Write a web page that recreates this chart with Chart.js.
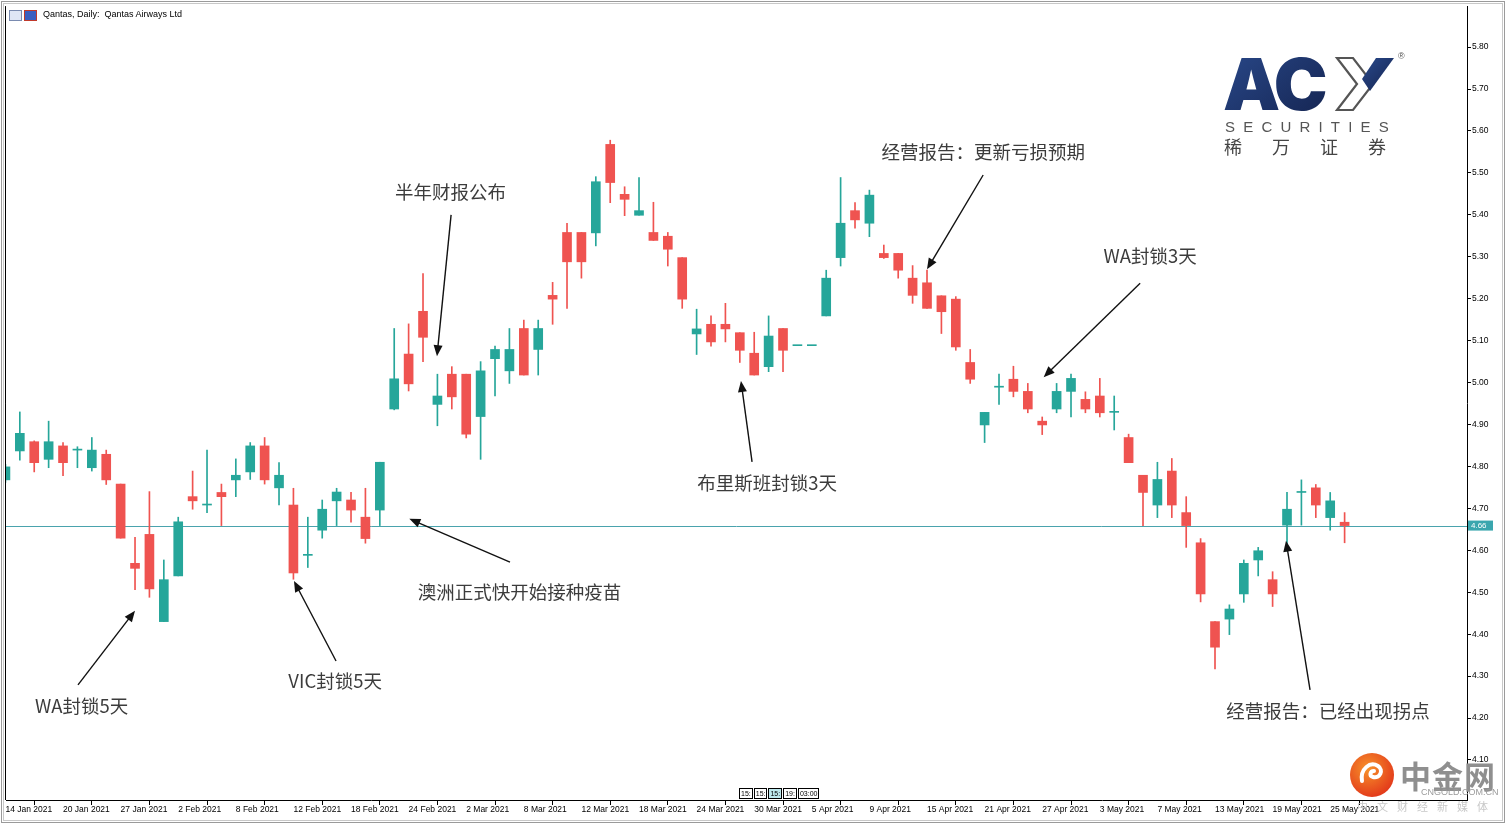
<!DOCTYPE html>
<html>
<head>
<meta charset="utf-8">
<script src="https://cdn.jsdelivr.net/npm/chart.js@4.4.1/dist/chart.umd.min.js"></script>
<style>
  body { margin: 0; background: #fff; }
  #wrap { position: relative; width: 1507px; height: 825px; overflow: hidden; background: #fff; }
  #wrap canvas { position: absolute; left: 0; top: 0; }
  .hdr { position: absolute; left: 43px; top: 9px; font: 9px "Liberation Sans", Arial, sans-serif; color: #000; }
  .ico { position: absolute; top: 10px; width: 11px; height: 9px; border: 1px solid #7a8bb0; }
  .sep { position: absolute; top: 788px; left: 739px; display: flex; font: 7px "Liberation Sans", sans-serif; }
  .sep span { border: 1px solid #000; padding: 0 1px; margin-right: 1px; height: 9px; line-height: 9px; background: #fff; }
  .wm1 { position: absolute; left: 1400px; top: 752px; font: bold 31px "Noto Sans CJK SC", sans-serif; color: #8f8f8f; letter-spacing: 1px; }
  .wm2 { position: absolute; left: 1421px; top: 787px; font: 9px "Liberation Sans", sans-serif; color: #9a9a9a; }
  .wm3 { position: absolute; left: 1357px; top: 798px; font: 11px "Noto Sans CJK SC", sans-serif; color: #c8c8c8; letter-spacing: 9px; }
</style>
</head>
<body>
<div id="wrap">
  <canvas id="qan"></canvas>
  <div class="ico" style="left:9px;background:#dfe6f5"></div>
  <div class="ico" style="left:24px;background:#3b5fc0;border-color:#c0392b"></div>
  <div class="hdr">Qantas, Daily:&nbsp; Qantas Airways Ltd</div>
  <div class="sep"><span>15:</span><span>15:</span><span style="background:#bfe9ee">15:</span><span>19:</span><span>03:00</span></div>

  <svg style="position:absolute;left:1210px;top:45px" width="200" height="120">
    <defs>
      <linearGradient id="nv" x1="0" y1="0" x2="1" y2="1">
        <stop offset="0" stop-color="#2a4a8c"/>
        <stop offset="1" stop-color="#14234f"/>
      </linearGradient>
    </defs>
    <text x="13" y="65" font-family="Inter" font-weight="900" font-size="72" fill="url(#nv)" letter-spacing="-3">AC</text>
    <polygon points="127,13 143,13 163,39 143,65 127,65 147,39" fill="#fff" stroke="#555" stroke-width="2.2"/>
    <polygon points="166,13 184,13 160,46 152,34" fill="url(#nv)"/>
    <text x="188" y="14" font-family="Liberation Sans" font-size="9" fill="#555">®</text>
    <text x="15" y="87" font-family="Liberation Sans" font-size="15" fill="#555" letter-spacing="8.2">SECURITIES</text>
    <text x="14" y="109" font-family="Noto Sans CJK SC" font-size="18" fill="#444" letter-spacing="30">稀万证券</text>
  </svg>

  <svg style="position:absolute;left:1348px;top:751px" width="50" height="50">
    <defs>
      <radialGradient id="og" cx="0.4" cy="0.35" r="0.7">
        <stop offset="0" stop-color="#f7922a"/>
        <stop offset="1" stop-color="#e2361a"/>
      </radialGradient>
    </defs>
    <circle cx="24" cy="24" r="22" fill="url(#og)"/>
    <path d="M14 30 C 12 18, 22 10, 30 15 C 36 19, 32 28, 25 26 C 21 25, 22 20, 26 20" fill="none" stroke="#fff" stroke-width="4" stroke-linecap="round"/>
  </svg>
  <div class="wm1">中金网</div>
  <div class="wm2">CNGOLD.COM.CN</div>
  <div class="wm3">中文财经新媒体</div>
</div>

<script>
// Qantas daily bars, 14 Jan - 26 May 2021
const dates = [
  '14 Jan 2021', '15 Jan 2021', '18 Jan 2021', '19 Jan 2021', '20 Jan 2021', '21 Jan 2021', '22 Jan 2021', '25 Jan 2021',
  '27 Jan 2021', '28 Jan 2021', '29 Jan 2021', '1 Feb 2021', '2 Feb 2021', '3 Feb 2021', '4 Feb 2021', '5 Feb 2021',
  '8 Feb 2021', '9 Feb 2021', '10 Feb 2021', '11 Feb 2021', '12 Feb 2021', '15 Feb 2021', '16 Feb 2021', '17 Feb 2021',
  '18 Feb 2021', '19 Feb 2021', '22 Feb 2021', '23 Feb 2021', '24 Feb 2021', '25 Feb 2021', '26 Feb 2021', '1 Mar 2021',
  '2 Mar 2021', '3 Mar 2021', '4 Mar 2021', '5 Mar 2021', '8 Mar 2021', '9 Mar 2021', '10 Mar 2021', '11 Mar 2021',
  '12 Mar 2021', '15 Mar 2021', '16 Mar 2021', '17 Mar 2021', '18 Mar 2021', '19 Mar 2021', '22 Mar 2021', '23 Mar 2021',
  '24 Mar 2021', '25 Mar 2021', '26 Mar 2021', '29 Mar 2021', '30 Mar 2021', '31 Mar 2021', '1 Apr 2021', '2 Apr 2021',
  '5 Apr 2021', '6 Apr 2021', '7 Apr 2021', '8 Apr 2021', '9 Apr 2021', '12 Apr 2021', '13 Apr 2021', '14 Apr 2021',
  '15 Apr 2021', '16 Apr 2021', '19 Apr 2021', '20 Apr 2021', '21 Apr 2021', '22 Apr 2021', '23 Apr 2021', '26 Apr 2021',
  '27 Apr 2021', '28 Apr 2021', '29 Apr 2021', '30 Apr 2021', '3 May 2021', '4 May 2021', '5 May 2021', '6 May 2021',
  '7 May 2021', '10 May 2021', '11 May 2021', '12 May 2021', '13 May 2021', '14 May 2021', '17 May 2021', '18 May 2021',
  '19 May 2021', '20 May 2021', '21 May 2021', '24 May 2021', '25 May 2021', '26 May 2021'
];

const opens = [
  4.768, 4.837, 4.859, 4.817, 4.849, 4.839, 4.797, 4.829, 4.758, 4.569, 4.638, 4.430, 4.539, 4.728, 4.708, 4.738,
  4.768, 4.787, 4.849, 4.749, 4.708, 4.588, 4.648, 4.718, 4.720, 4.679, 4.696, 4.937, 5.068, 5.170, 4.948, 5.020,
  5.020, 4.919, 5.057, 5.028, 5.129, 5.079, 5.208, 5.358, 5.358, 5.357, 5.568, 5.449, 5.399, 5.358, 5.349, 5.298,
  5.116, 5.139, 5.139, 5.119, 5.070, 5.038, 5.129, 5.088, 5.088, 5.159, 5.298, 5.410, 5.380, 5.308, 5.308, 5.249,
  5.238, 5.207, 5.199, 5.048, 4.899, 4.989, 5.008, 4.979, 4.908, 4.937, 4.979, 4.960, 4.968, 4.929, 4.869, 4.779,
  4.708, 4.789, 4.690, 4.618, 4.430, 4.436, 4.496, 4.577, 4.530, 4.660, 4.738, 4.749, 4.678, 4.667
];
const highs = [
  4.805, 4.930, 4.861, 4.908, 4.857, 4.847, 4.869, 4.839, 4.758, 4.631, 4.740, 4.577, 4.679, 4.789, 4.839, 4.758,
  4.818, 4.857, 4.869, 4.809, 4.748, 4.679, 4.720, 4.748, 4.738, 4.748, 4.810, 5.129, 5.140, 5.260, 5.020, 5.038,
  5.020, 5.050, 5.087, 5.129, 5.149, 5.149, 5.239, 5.380, 5.358, 5.491, 5.578, 5.467, 5.489, 5.430, 5.358, 5.298,
  5.175, 5.159, 5.189, 5.119, 5.120, 5.159, 5.129, 5.088, 5.088, 5.268, 5.489, 5.429, 5.459, 5.328, 5.308, 5.279,
  5.268, 5.207, 5.205, 5.079, 4.929, 5.020, 5.039, 4.998, 4.918, 4.998, 5.020, 4.978, 5.010, 4.968, 4.877, 4.779,
  4.810, 4.819, 4.728, 4.628, 4.430, 4.470, 4.577, 4.607, 4.549, 4.738, 4.768, 4.757, 4.738, 4.690
];
const lows = [
  4.762, 4.815, 4.787, 4.797, 4.778, 4.797, 4.789, 4.757, 4.629, 4.506, 4.488, 4.430, 4.539, 4.698, 4.690, 4.659,
  4.728, 4.769, 4.758, 4.708, 4.531, 4.559, 4.629, 4.659, 4.667, 4.617, 4.659, 4.935, 4.980, 5.050, 4.897, 4.937,
  4.868, 4.817, 4.968, 4.998, 5.018, 5.018, 5.139, 5.177, 5.249, 5.326, 5.429, 5.398, 5.399, 5.339, 5.278, 5.177,
  5.067, 5.087, 5.097, 5.048, 5.018, 5.026, 5.026, 5.088, 5.088, 5.159, 5.278, 5.368, 5.348, 5.296, 5.249, 5.189,
  5.177, 5.117, 5.077, 4.998, 4.857, 4.948, 4.966, 4.928, 4.876, 4.928, 4.918, 4.928, 4.918, 4.887, 4.809, 4.659,
  4.678, 4.678, 4.607, 4.477, 4.317, 4.399, 4.476, 4.539, 4.466, 4.598, 4.660, 4.678, 4.648, 4.618
];
const closes = [
  4.799, 4.879, 4.809, 4.859, 4.809, 4.839, 4.839, 4.768, 4.629, 4.557, 4.508, 4.530, 4.668, 4.718, 4.708, 4.728,
  4.779, 4.849, 4.768, 4.779, 4.546, 4.588, 4.698, 4.739, 4.696, 4.628, 4.810, 5.009, 4.997, 5.108, 4.968, 4.966,
  4.877, 5.028, 5.079, 5.079, 5.018, 5.129, 5.199, 5.288, 5.288, 5.479, 5.477, 5.437, 5.410, 5.339, 5.318, 5.199,
  5.128, 5.097, 5.128, 5.077, 5.018, 5.111, 5.077, 5.088, 5.088, 5.249, 5.380, 5.388, 5.447, 5.298, 5.268, 5.208,
  5.177, 5.169, 5.085, 5.008, 4.929, 4.989, 4.979, 4.937, 4.899, 4.979, 5.010, 4.937, 4.928, 4.929, 4.809, 4.738,
  4.769, 4.708, 4.659, 4.496, 4.369, 4.460, 4.569, 4.599, 4.496, 4.698, 4.738, 4.708, 4.718, 4.659
];

const priceTicks = [4.1, 4.2, 4.3, 4.4, 4.5, 4.6, 4.7, 4.8, 4.9, 5.0, 5.1, 5.2, 5.3, 5.4, 5.5, 5.6, 5.7, 5.8];
const labelEvery = 4;

// chart notes, placed in bar-index / price units
const notes = [
  { text: '半年财报公布', at: [30.9, 5.455], from: [30.95, 5.40], to: [29.97, 5.063] },
  { text: '经营报告：更新亏损预期', at: [67.9, 5.550], from: [67.9, 5.495], to: [64.0, 5.270] },
  { text: 'WA封锁3天', at: [79.5, 5.302], from: [78.8, 5.237], to: [72.1, 5.013] },
  { text: '布里斯班封锁3天', at: [52.9, 4.760], from: [51.85, 4.811], to: [51.08, 5.004] },
  { text: '澳洲正式快开始接种疫苗', at: [35.7, 4.500], from: [35.04, 4.572], to: [28.05, 4.675] },
  { text: 'VIC封锁5天', at: [22.9, 4.288], from: [22.96, 4.336], to: [20.04, 4.527] },
  { text: 'WA封锁5天', at: [5.3, 4.229], from: [5.04, 4.279], to: [9.0, 4.456] },
  { text: '经营报告：已经出现拐点', at: [91.85, 4.217], from: [90.6, 4.267], to: [88.93, 4.623] }
];

const UP = '#26a69a';
const DOWN = '#ef5350';
const colors = closes.map((c, i) => c >= opens[i] ? UP : DOWN);

const wickData = dates.map((d, i) => ({ x: i, y: [lows[i], highs[i]] }));
const bodyData = dates.map((d, i) => ({ x: i, y: [opens[i], closes[i]] }));

const frame = {
  id: 'frame',
  beforeDatasetsDraw(chart) {
    const { ctx, chartArea: a, scales } = chart;
    const last = closes[closes.length - 1];
    const y = Math.round(scales.y.getPixelForValue(last)) + 0.5;
    ctx.save();
    ctx.strokeStyle = '#4aa3ad';
    ctx.lineWidth = 1;
    ctx.beginPath();
    ctx.moveTo(a.left, y);
    ctx.lineTo(a.right, y);
    ctx.stroke();
    ctx.restore();
  },
  afterDraw(chart) {
    const { ctx, chartArea: a, scales } = chart;
    ctx.save();
    // window border
    ctx.strokeStyle = '#9a9a9a';
    ctx.lineWidth = 1;
    ctx.strokeRect(1.5, 1.5, 1503, 821);
    ctx.strokeStyle = '#c8c8c8';
    ctx.strokeRect(3.5, 3.5, 1499, 817);
    ctx.strokeStyle = '#000';
    ctx.beginPath();
    ctx.moveTo(a.left - 0.5, a.top);
    ctx.lineTo(a.left - 0.5, a.bottom);
    ctx.stroke();

    // last price tag
    const last = closes[closes.length - 1];
    const y = scales.y.getPixelForValue(last);
    ctx.fillStyle = '#3aa6ae';
    ctx.fillRect(a.right + 1, y - 5, 25, 10);
    ctx.fillStyle = '#fff';
    ctx.font = '8px "Liberation Sans", sans-serif';
    ctx.textBaseline = 'middle';
    ctx.fillText(last.toFixed(2), a.right + 4, y + 0.5);

    // notes with arrows
    ctx.font = '18.5px "Noto Sans CJK SC", sans-serif';
    ctx.textAlign = 'center';
    ctx.textBaseline = 'middle';
    notes.forEach(n => {
      const px = v => scales.x.getPixelForValue(v[0]);
      const py = v => scales.y.getPixelForValue(v[1]);
      ctx.fillStyle = '#3c3c3c';
      ctx.fillText(n.text, px(n.at), py(n.at));
      const x1 = px(n.from), y1 = py(n.from), x2 = px(n.to), y2 = py(n.to);
      const ang = Math.atan2(y2 - y1, x2 - x1);
      const head = 11, half = 4.5;
      ctx.strokeStyle = '#111';
      ctx.lineWidth = 1.4;
      ctx.beginPath();
      ctx.moveTo(x1, y1);
      ctx.lineTo(x2 - Math.cos(ang) * head * 0.8, y2 - Math.sin(ang) * head * 0.8);
      ctx.stroke();
      ctx.fillStyle = '#111';
      ctx.beginPath();
      ctx.moveTo(x2, y2);
      ctx.lineTo(x2 - Math.cos(ang) * head + Math.sin(ang) * half, y2 - Math.sin(ang) * head - Math.cos(ang) * half);
      ctx.lineTo(x2 - Math.cos(ang) * head - Math.sin(ang) * half, y2 - Math.sin(ang) * head + Math.cos(ang) * half);
      ctx.closePath();
      ctx.fill();
    });
    ctx.restore();
  }
};

const canvas = document.getElementById('qan');
canvas.width = 1507;
canvas.height = 825;

new Chart(canvas.getContext('2d'), {
  type: 'bar',
  data: {
    datasets: [
      {
        label: 'wick',
        data: wickData,
        backgroundColor: colors,
        barThickness: 1,
        grouped: false,
        order: 2
      },
      {
        label: 'body',
        data: bodyData,
        backgroundColor: colors,
        barThickness: 9,
        minBarLength: 1,
        grouped: false,
        order: 1
      }
    ]
  },
  options: {
    responsive: false,
    animation: false,
    devicePixelRatio: 1,
    layout: { padding: { top: 6, left: 6, right: 0, bottom: 0 } },
    plugins: {
      legend: { display: false },
      tooltip: { enabled: false }
    },
    scales: {
      x: {
        type: 'linear',
        offset: false,
        min: 0.04,
        max: 101.5,
        afterBuildTicks(scale) {
          scale.ticks = dates.map((d, i) => i).filter(i => i % labelEvery === 0).map(v => ({ value: v }));
        },
        afterFit(scale) { scale.height = 25; },
        grid: { drawOnChartArea: false, tickLength: 5, color: '#000' },
        border: { display: true, color: '#000' },
        ticks: {
          autoSkip: false,
          maxRotation: 0,
          align: 'start',
          padding: 0,
          color: '#000',
          font: { family: 'Liberation Sans', size: 8.5 },
          callback: v => dates[v] || ''
        }
      },
      y: {
        type: 'linear',
        position: 'right',
        min: 4.0046,
        max: 5.8978,
        afterBuildTicks(scale) {
          scale.ticks = priceTicks.map(v => ({ value: v }));
        },
        afterFit(scale) { scale.width = 40; },
        grid: { drawOnChartArea: false, tickLength: 4, color: '#000' },
        border: { display: true, color: '#000' },
        ticks: {
          padding: 1,
          color: '#000',
          font: { family: 'Liberation Sans', size: 8.5 },
          callback: v => v.toFixed(2)
        }
      }
    }
  },
  plugins: [frame]
});
</script>
</body>
</html>
